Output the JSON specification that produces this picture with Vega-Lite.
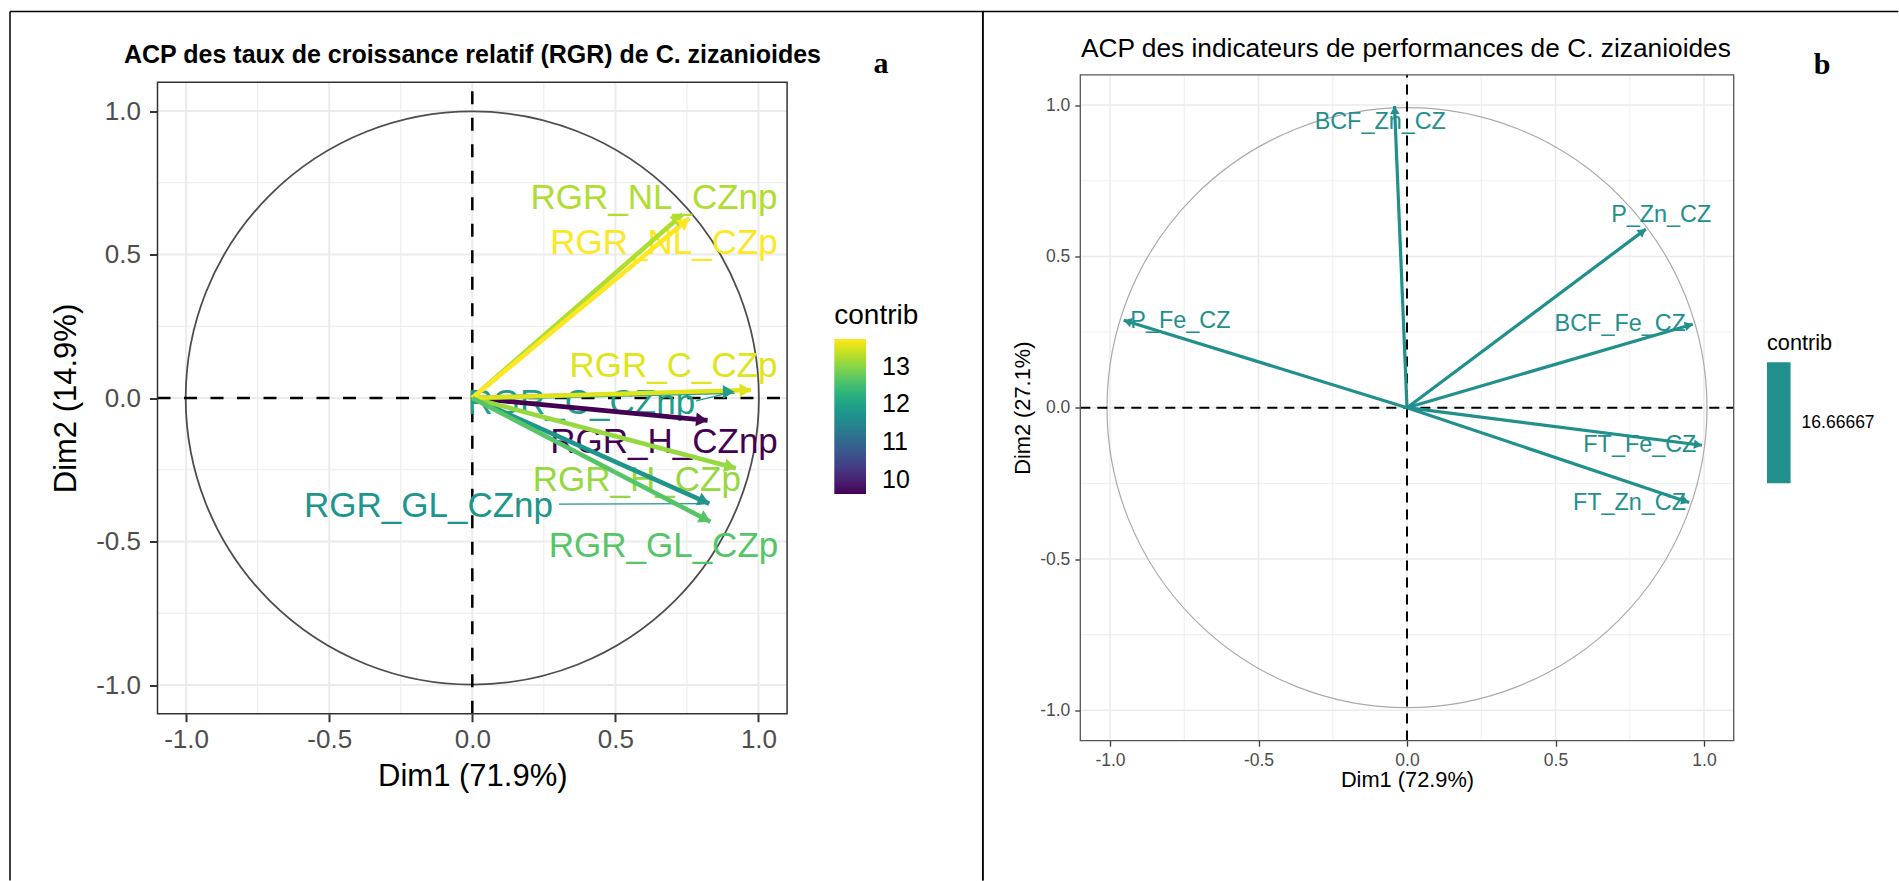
{
  "$schema": "https://vega.github.io/schema/vega-lite/v6.json",
  "padding": {"left": 9, "top": 10.5, "right": 0, "bottom": 0},
  "spacing": 0,
  "bounds": "flush",
  "background": "white",
  "resolve": {
    "scale": {"x": "independent", "y": "independent", "color": "independent"},
    "axis": {"x": "independent", "y": "independent"},
    "legend": {"color": "independent"}
  },
  "config": {
    "view": {"stroke": "#000000", "strokeWidth": 1.5},
    "font": "Liberation Sans"
  },
  "datasets": {
    "rgr": [
      {"var": "RGR_H_CZnp", "Dim1": 0.822, "Dim2": -0.078, "contrib": 9.62, "lx": 0.670, "ly": -0.153},
      {"var": "RGR_C_CZnp", "Dim1": 0.916, "Dim2": 0.022, "contrib": 11.9, "lx": 0.381, "ly": -0.016, "sx": 0.782, "sy": -0.010},
      {"var": "RGR_NL_CZnp", "Dim1": 0.735, "Dim2": 0.640, "contrib": 13.25, "lx": 0.635, "ly": 0.698},
      {"var": "RGR_GL_CZnp", "Dim1": 0.828, "Dim2": -0.368, "contrib": 11.75, "lx": -0.153, "ly": -0.378, "sx": 0.303, "sy": -0.370},
      {"var": "RGR_H_CZp", "Dim1": 0.921, "Dim2": -0.245, "contrib": 13.1, "lx": 0.575, "ly": -0.286},
      {"var": "RGR_C_CZp", "Dim1": 0.974, "Dim2": 0.028, "contrib": 13.55, "lx": 0.703, "ly": 0.111},
      {"var": "RGR_NL_CZp", "Dim1": 0.758, "Dim2": 0.626, "contrib": 13.74, "lx": 0.670, "ly": 0.541},
      {"var": "RGR_GL_CZp", "Dim1": 0.832, "Dim2": -0.431, "contrib": 12.65, "lx": 0.668, "ly": -0.516}
    ],
    "perf": [
      {"var": "BCF_Fe_CZ", "Dim1": 0.962, "Dim2": 0.276, "contrib": 16.66667, "lx": 0.718, "ly": 0.276},
      {"var": "BCF_Zn_CZ", "Dim1": -0.042, "Dim2": 0.997, "contrib": 16.66667, "lx": -0.090, "ly": 0.945},
      {"var": "FT_Fe_CZ", "Dim1": 0.993, "Dim2": -0.124, "contrib": 16.66667, "lx": 0.784, "ly": -0.123},
      {"var": "FT_Zn_CZ", "Dim1": 0.950, "Dim2": -0.313, "contrib": 16.66667, "lx": 0.749, "ly": -0.315},
      {"var": "P_Fe_CZ", "Dim1": -0.954, "Dim2": 0.289, "contrib": 16.66667, "lx": -0.763, "ly": 0.286},
      {"var": "P_Zn_CZ", "Dim1": 0.804, "Dim2": 0.590, "contrib": 16.66667, "lx": 0.856, "ly": 0.637}
    ],
    "gmaj": [{"g": -1}, {"g": -0.5}, {"g": 0}, {"g": 0.5}, {"g": 1}],
    "gmin": [{"g": -0.75}, {"g": -0.25}, {"g": 0.25}, {"g": 0.75}],
    "one": [{"k": 1}]
  },
  "hconcat": [
    {
      "width": 972.7,
      "height": 869,
      "view": {"stroke": "#000000", "strokeWidth": 1.5, "strokeDash": [1841.7, 972.7, 869, 0]},
      "resolve": {"legend": {"color": "independent"}},
      "title": {"text": "ACP des taux de croissance relatif (RGR) de C. zizanioides", "anchor": "start", "frame": "group", "align": "left", "dx": 114, "offset": -76.6, "baseline": "alphabetic", "fontSize": 25, "fontWeight": "bold", "font": "Liberation Sans", "color": "#000000"},
      "layer": [
        {"data": {"name": "gmin"}, "mark": {"type": "rule", "color": "#ebebeb", "strokeWidth": 1},
         "encoding": {
           "x": {"field": "g", "type": "quantitative", "scale": {"domain": [-1.1, 1.1], "range": [147.5, 777.1], "nice": false, "zero": false},
             "axis": {"values": [-1, -0.5, 0, 0.5, 1], "labelExpr": "(datum.value < 0 ? '-' : '') + format(abs(datum.value), '.1f')", "grid": false, "domain": false, "tickSize": 8, "tickWidth": 2, "tickColor": "#333333", "labelFontSize": 26, "labelColor": "#4d4d4d", "labelPadding": 5, "labelFlush": false, "labelOverlap": false, "title": "Dim1 (71.9%)", "titleFontSize": 31, "titleFontWeight": "normal", "titleColor": "#000000", "titlePadding": 9, "offset": -166.8}},
           "y": {"datum": -1.1, "type": "quantitative", "scale": {"domain": [-1.1, 1.1], "range": [702.2, 70.8], "nice": false, "zero": false},
             "axis": {"values": [-1, -0.5, 0, 0.5, 1], "labelExpr": "(datum.value < 0 ? '-' : '') + format(abs(datum.value), '.1f')", "grid": false, "domain": false, "tickSize": 8, "tickWidth": 2, "tickColor": "#333333", "labelFontSize": 26, "labelColor": "#4d4d4d", "labelPadding": 9, "labelFlush": false, "labelOverlap": false, "title": "Dim2 (14.9%)", "titleFontSize": 31, "titleFontWeight": "normal", "titleColor": "#000000", "titlePadding": 13.5, "offset": -147.5}},
           "y2": {"datum": 1.1}
         }},
        {"data": {"name": "gmaj"}, "mark": {"type": "rule", "color": "#ebebeb", "strokeWidth": 2},
         "encoding": {"x": {"field": "g", "type": "quantitative"}, "y": {"datum": -1.1, "type": "quantitative"}, "y2": {"datum": 1.1}}},
        {"data": {"name": "gmin"}, "mark": {"type": "rule", "color": "#ebebeb", "strokeWidth": 1},
         "encoding": {"y": {"field": "g", "type": "quantitative"}, "x": {"datum": -1.1, "type": "quantitative"}, "x2": {"datum": 1.1}}},
        {"data": {"name": "gmaj"}, "mark": {"type": "rule", "color": "#ebebeb", "strokeWidth": 2},
         "encoding": {"y": {"field": "g", "type": "quantitative"}, "x": {"datum": -1.1, "type": "quantitative"}, "x2": {"datum": 1.1}}},
        {"data": {"name": "one"}, "mark": {"type": "arc", "theta": 0, "theta2": 6.2832, "outerRadius": 286.6, "innerRadius": 0, "fillOpacity": 0, "stroke": "#4d4d4d", "strokeWidth": 1.8},
         "encoding": {"x": {"datum": 0, "type": "quantitative"}, "y": {"datum": 0, "type": "quantitative"}}},
        {"data": {"name": "one"}, "mark": {"type": "rule", "color": "#000000", "strokeWidth": 2.5, "strokeDash": [13, 13.5]},
         "encoding": {"x": {"datum": 0, "type": "quantitative"}, "y": {"datum": -1.1, "type": "quantitative"}, "y2": {"datum": 1.1}}},
        {"data": {"name": "one"}, "mark": {"type": "rule", "color": "#000000", "strokeWidth": 2.5, "strokeDash": [13, 13.5]},
         "encoding": {"y": {"datum": 0, "type": "quantitative"}, "x": {"datum": -1.1, "type": "quantitative"}, "x2": {"datum": 1.1}}},
        {"data": {"name": "rgr"}, "mark": {"type": "text", "fontSize": 35, "align": "center", "baseline": "middle", "font": "Liberation Sans"},
         "encoding": {
           "x": {"field": "lx", "type": "quantitative"},
           "y": {"field": "ly", "type": "quantitative"},
           "text": {"field": "var"},
           "color": {"field": "contrib", "type": "quantitative", "scale": {"scheme": "viridis", "domain": [9.62, 13.74], "nice": false, "zero": false},
             "legend": {"type": "gradient", "orient": "none", "legendX": 824.3, "legendY": 290.5, "direction": "vertical", "gradientLength": 155, "gradientThickness": 31.7, "title": "contrib", "titleFontSize": 28, "titleFontWeight": "normal", "titleColor": "#000000", "titlePadding": 9, "labelFontSize": 25, "labelColor": "#000000", "labelOffset": 16, "values": [10, 11, 12, 13], "format": "d", "gradientStrokeWidth": 0}}
         }},
        {"data": {"name": "rgr"}, "transform": [{"filter": "isValid(datum.sx)"}], "mark": {"type": "rule", "strokeWidth": 1.2},
         "encoding": {
           "x": {"field": "sx", "type": "quantitative"},
           "y": {"field": "sy", "type": "quantitative"},
           "x2": {"field": "Dim1"}, "y2": {"field": "Dim2"},
           "color": {"field": "contrib", "type": "quantitative", "scale": {"scheme": "viridis", "domain": [9.62, 13.74], "nice": false, "zero": false}, "legend": null}
         }},
        {"data": {"name": "rgr"}, "mark": {"type": "rule", "strokeWidth": 4.6},
         "encoding": {
           "x": {"field": "Dim1", "type": "quantitative"},
           "y": {"field": "Dim2", "type": "quantitative"},
           "x2": {"datum": 0}, "y2": {"datum": 0},
           "color": {"field": "contrib", "type": "quantitative", "scale": {"scheme": "viridis", "domain": [9.62, 13.74], "nice": false, "zero": false}, "legend": null}
         }},
        {"data": {"name": "rgr"}, "mark": {"type": "point", "shape": "M 0 0 L -0.6 1 L 0.6 1 Z", "size": 530, "filled": true, "opacity": 1, "strokeWidth": 0, "angle": {"expr": "atan2(datum.Dim1, datum.Dim2) * 180 / PI"}},
         "encoding": {
           "x": {"field": "Dim1", "type": "quantitative"},
           "y": {"field": "Dim2", "type": "quantitative"},
           "color": {"field": "contrib", "type": "quantitative", "scale": {"scheme": "viridis", "domain": [9.62, 13.74], "nice": false, "zero": false}, "legend": null}
         }},
        {"data": {"name": "one"}, "mark": {"type": "rect", "fillOpacity": 0, "stroke": "#333333", "strokeWidth": 1.5},
         "encoding": {"x": {"datum": -1.1, "type": "quantitative"}, "x2": {"datum": 1.1}, "y": {"datum": -1.1, "type": "quantitative"}, "y2": {"datum": 1.1}}},
        {"data": {"name": "one"}, "mark": {"type": "text", "text": "a", "font": "Liberation Serif", "fontWeight": "bold", "fontSize": 30, "align": "center", "baseline": "alphabetic", "color": "#000000"},
         "encoding": {"x": {"datum": 1.428, "type": "quantitative"}, "y": {"datum": 1.132, "type": "quantitative"}}}
      ]
    },
    {
      "width": 915.3,
      "height": 869,
      "view": {"stroke": "#000000", "strokeWidth": 1.5, "strokeDash": [915.3, 1784.3, 869, 0]},
      "resolve": {"legend": {"color": "independent"}},
      "title": {"text": "ACP des indicateurs de performances de C. zizanioides", "anchor": "start", "frame": "group", "align": "left", "dx": 97.9, "offset": -72, "baseline": "alphabetic", "fontSize": 26.3, "fontWeight": "normal", "font": "Liberation Sans", "color": "#000000"},
      "layer": [
        {"data": {"name": "gmin"}, "mark": {"type": "rule", "color": "#ebebeb", "strokeWidth": 0.8},
         "encoding": {
           "x": {"field": "g", "type": "quantitative", "scale": {"domain": [-1.1, 1.1], "range": [97.3, 750.7], "nice": false, "zero": false},
             "axis": {"values": [-1, -0.5, 0, 0.5, 1], "labelExpr": "(datum.value < 0 ? '-' : '') + format(abs(datum.value), '.1f')", "grid": false, "domain": false, "tickSize": 5.5, "tickWidth": 1.3, "tickColor": "#333333", "labelFontSize": 17.5, "labelColor": "#4d4d4d", "labelPadding": 5, "labelFlush": false, "labelOverlap": false, "title": "Dim1 (72.9%)", "titleFontSize": 21.8, "titleFontWeight": "normal", "titleColor": "#000000", "titlePadding": 1, "offset": -139.9}},
           "y": {"datum": -1.1, "type": "quantitative", "scale": {"domain": [-1.1, 1.1], "range": [729.1, 63.3], "nice": false, "zero": false},
             "axis": {"values": [-1, -0.5, 0, 0.5, 1], "labelExpr": "(datum.value < 0 ? '-' : '') + format(abs(datum.value), '.1f')", "grid": false, "domain": false, "tickSize": 5.5, "tickWidth": 1.3, "tickColor": "#333333", "labelFontSize": 17.5, "labelColor": "#4d4d4d", "labelPadding": 5, "labelFlush": false, "labelOverlap": false, "title": "Dim2 (27.1%)", "titleFontSize": 21.8, "titleFontWeight": "normal", "titleColor": "#000000", "titlePadding": 5, "offset": -97.3}},
           "y2": {"datum": 1.1}
         }},
        {"data": {"name": "gmaj"}, "mark": {"type": "rule", "color": "#ebebeb", "strokeWidth": 1.5},
         "encoding": {"x": {"field": "g", "type": "quantitative"}, "y": {"datum": -1.1, "type": "quantitative"}, "y2": {"datum": 1.1}}},
        {"data": {"name": "gmin"}, "mark": {"type": "rule", "color": "#ebebeb", "strokeWidth": 0.8},
         "encoding": {"y": {"field": "g", "type": "quantitative"}, "x": {"datum": -1.1, "type": "quantitative"}, "x2": {"datum": 1.1}}},
        {"data": {"name": "gmaj"}, "mark": {"type": "rule", "color": "#ebebeb", "strokeWidth": 1.5},
         "encoding": {"y": {"field": "g", "type": "quantitative"}, "x": {"datum": -1.1, "type": "quantitative"}, "x2": {"datum": 1.1}}},
        {"data": {"name": "one"}, "mark": {"type": "arc", "theta": 0, "theta2": 6.2832, "outerRadius": 300, "innerRadius": 0, "fillOpacity": 0, "stroke": "#aaaaaa", "strokeWidth": 1.2},
         "encoding": {"x": {"datum": 0, "type": "quantitative"}, "y": {"datum": 0, "type": "quantitative"}}},
        {"data": {"name": "one"}, "mark": {"type": "rule", "color": "#000000", "strokeWidth": 2, "strokeDash": [10, 7]},
         "encoding": {"x": {"datum": 0, "type": "quantitative"}, "y": {"datum": -1.1, "type": "quantitative"}, "y2": {"datum": 1.1}}},
        {"data": {"name": "one"}, "mark": {"type": "rule", "color": "#000000", "strokeWidth": 2, "strokeDash": [10, 7]},
         "encoding": {"y": {"datum": 0, "type": "quantitative"}, "x": {"datum": -1.1, "type": "quantitative"}, "x2": {"datum": 1.1}}},
        {"data": {"name": "perf"}, "mark": {"type": "text", "fontSize": 23.4, "align": "center", "baseline": "middle", "font": "Liberation Sans"},
         "encoding": {
           "x": {"field": "lx", "type": "quantitative"},
           "y": {"field": "ly", "type": "quantitative"},
           "text": {"field": "var"},
           "color": {"field": "contrib", "type": "quantitative", "scale": {"domain": [16.6, 16.73334], "range": ["#21908c", "#21908c"], "nice": false, "zero": false},
             "legend": {"type": "gradient", "orient": "none", "legendX": 784, "legendY": 321, "direction": "vertical", "gradientLength": 121, "gradientThickness": 23.6, "title": "contrib", "titleFontSize": 21.7, "titleFontWeight": "normal", "titleColor": "#000000", "titlePadding": 8, "labelFontSize": 17.5, "labelColor": "#000000", "labelOffset": 11, "values": [16.66667], "format": ".5f", "gradientStrokeWidth": 0}}
         }},
        {"data": {"name": "perf"}, "mark": {"type": "rule", "strokeWidth": 3.2},
         "encoding": {
           "x": {"field": "Dim1", "type": "quantitative"},
           "y": {"field": "Dim2", "type": "quantitative"},
           "x2": {"datum": 0}, "y2": {"datum": 0},
           "color": {"field": "contrib", "type": "quantitative", "scale": {"domain": [16.6, 16.73334], "range": ["#21908c", "#21908c"], "nice": false, "zero": false}, "legend": null}
         }},
        {"data": {"name": "perf"}, "mark": {"type": "point", "shape": "M 0 0 L -0.6 1 L 0.6 1 Z", "size": 256, "filled": true, "opacity": 1, "strokeWidth": 0, "angle": {"expr": "atan2(datum.Dim1, datum.Dim2) * 180 / PI"}},
         "encoding": {
           "x": {"field": "Dim1", "type": "quantitative"},
           "y": {"field": "Dim2", "type": "quantitative"},
           "color": {"field": "contrib", "type": "quantitative", "scale": {"domain": [16.6, 16.73334], "range": ["#21908c", "#21908c"], "nice": false, "zero": false}, "legend": null}
         }},
        {"data": {"name": "one"}, "mark": {"type": "rect", "fillOpacity": 0, "stroke": "#555555", "strokeWidth": 1.3},
         "encoding": {"x": {"datum": -1.1, "type": "quantitative"}, "x2": {"datum": 1.1}, "y": {"datum": -1.1, "type": "quantitative"}, "y2": {"datum": 1.1}}},
        {"data": {"name": "one"}, "mark": {"type": "text", "text": "b", "font": "Liberation Serif", "fontWeight": "bold", "fontSize": 30, "align": "center", "baseline": "alphabetic", "color": "#000000"},
         "encoding": {"x": {"datum": 1.398, "type": "quantitative"}, "y": {"datum": 1.103, "type": "quantitative"}}}
      ]
    }
  ]
}
